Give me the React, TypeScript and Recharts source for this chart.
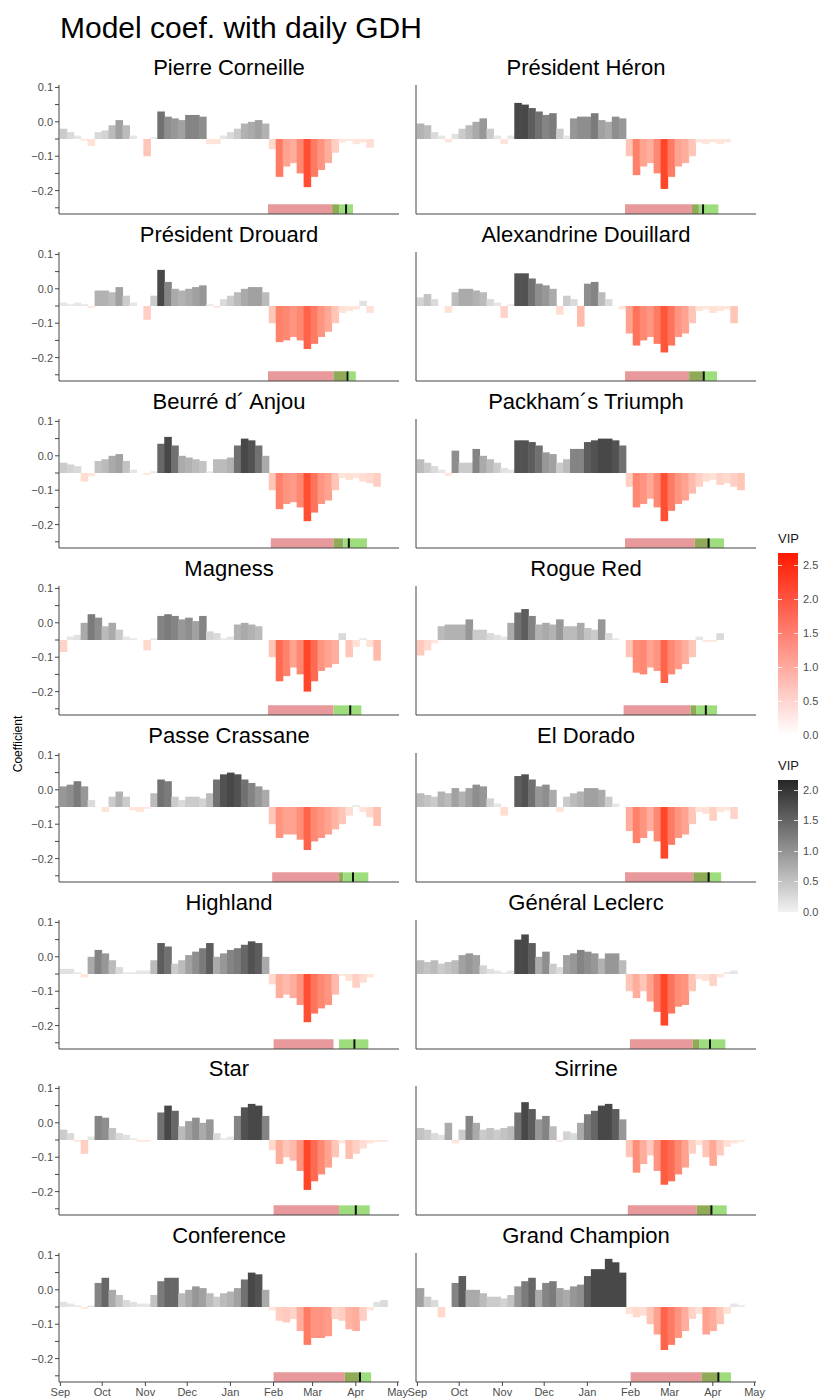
import { BarChart, Bar, XAxis, YAxis, Cell, ReferenceArea, ReferenceLine } from 'recharts'

// bars hang from this level, as in the original figure
const BASE = -0.05

// start day (days after 1 Sep) of each 5-day bin
const DAYS = [
  0, 5, 10, 15, 20, 25, 30, 35, 40, 45, 50, 55, 60, 65, 70, 75, 80, 85, 90, 95,
  100, 105, 110, 115, 120, 125, 130, 135, 140, 145, 150, 155, 160, 165, 170, 175,
  180, 185, 190, 195, 200, 205, 210, 215, 220, 225, 230, 235, 240,
]
const MONTH_TICKS = [0, 30, 61, 91, 122, 153, 181, 212, 242]
const MONTH_LABELS = ['Sep', 'Oct', 'Nov', 'Dec', 'Jan', 'Feb', 'Mar', 'Apr', 'May']
const Y_TICKS = [-0.25, -0.2, -0.15, -0.1, -0.05, 0, 0.05, 0.1]

const CULTIVARS = [
  'Pierre Corneille', 'Président Héron',
  'Président Drouard', 'Alexandrine Douillard',
  'Beurré d´ Anjou', 'Packham´s Triumph',
  'Magness', 'Rogue Red',
  'Passe Crassane', 'El Dorado',
  'Highland', 'Général Leclerc',
  'Star', 'Sirrine',
  'Conference', 'Grand Champion',
]

const n = null
const PIERRE_CORNEILLE = [-0.02, -0.03, -0.04, -0.055, -0.07, -0.03, -0.025, -0.01, 0.005, -0.01, -0.04, -0.05, -0.1, -0.045, 0.03, 0.015, 0.01, 0.005, 0.02, 0.02, 0.015, -0.065, -0.065, -0.04, -0.03, -0.02, -0.005, 0, 0.005, -0.005, -0.08, -0.16, -0.13, -0.12, -0.15, -0.19, -0.16, -0.14, -0.12, -0.09, -0.06, -0.055, -0.065, -0.06, -0.075, n, n, n, n]
const PRESIDENT_HERON = [-0.005, -0.01, -0.03, -0.04, -0.06, -0.035, -0.02, -0.01, 0, 0.01, -0.02, -0.04, -0.065, -0.04, 0.055, 0.05, 0.04, 0.03, 0.02, 0.025, -0.02, -0.04, 0.01, 0.015, 0.015, 0.025, 0.005, 0, 0.015, 0.01, -0.1, -0.155, -0.13, -0.12, -0.15, -0.195, -0.16, -0.13, -0.12, -0.1, -0.06, -0.065, -0.06, -0.065, -0.06, n, n, n, n]
const PRESIDENT_DROUARD = [-0.04, -0.045, -0.04, -0.045, -0.055, -0.005, -0.005, -0.01, 0.005, -0.02, -0.04, -0.05, -0.09, -0.02, 0.055, 0.02, 0, -0.005, 0, 0.005, 0.01, -0.045, -0.055, -0.03, -0.02, -0.01, 0, 0.005, 0.005, -0.01, -0.1, -0.155, -0.15, -0.14, -0.15, -0.175, -0.16, -0.14, -0.125, -0.1, -0.07, -0.065, -0.06, -0.035, -0.07, n, n, n, n]
const ALEXANDRINE_DOUILLARD = [-0.025, -0.015, -0.03, -0.05, -0.07, -0.01, 0, 0, -0.005, -0.01, -0.03, -0.04, -0.085, -0.045, 0.045, 0.045, 0.03, 0.015, 0.01, 0, -0.075, -0.02, -0.03, -0.11, 0.015, 0.02, -0.01, -0.03, -0.05, -0.06, -0.13, -0.165, -0.15, -0.14, -0.16, -0.185, -0.165, -0.14, -0.13, -0.1, -0.065, -0.06, -0.07, -0.065, -0.06, -0.1, n, n, n]
const BEURRE_ANJOU = [-0.02, -0.025, -0.03, -0.075, -0.06, -0.015, -0.01, 0, 0.005, -0.015, -0.04, -0.05, -0.055, -0.045, 0.035, 0.055, 0.03, 0, -0.005, -0.01, -0.015, -0.045, -0.01, -0.01, -0.005, 0.03, 0.05, 0.045, 0.03, 0, -0.1, -0.155, -0.14, -0.135, -0.15, -0.19, -0.165, -0.14, -0.13, -0.1, -0.065, -0.07, -0.065, -0.075, -0.08, -0.09, n, n, n]
const PACKHAMS_TRIUMPH = [-0.01, -0.02, -0.03, -0.04, -0.058, 0.015, -0.02, -0.02, 0.02, 0, -0.01, -0.02, -0.035, -0.04, 0.045, 0.045, 0.04, 0.03, 0.01, 0.005, -0.02, -0.01, 0.02, 0.02, 0.04, 0.045, 0.05, 0.05, 0.045, 0.03, -0.09, -0.15, -0.14, -0.125, -0.15, -0.19, -0.16, -0.14, -0.13, -0.11, -0.09, -0.075, -0.07, -0.085, -0.08, -0.09, -0.1, n, n]
const MAGNESS = [-0.085, -0.04, -0.035, 0, 0.025, 0.015, -0.01, 0, -0.02, -0.04, -0.045, -0.05, -0.08, -0.045, 0.02, 0.025, 0.02, 0.01, 0.015, 0.005, 0.02, -0.025, -0.03, -0.045, -0.04, -0.005, 0, -0.005, -0.01, -0.05, -0.1, -0.17, -0.155, -0.13, -0.15, -0.2, -0.17, -0.14, -0.13, -0.12, -0.03, -0.1, -0.07, -0.045, -0.07, -0.11, n, n, n]
const ROGUE_RED = [-0.095, -0.08, -0.06, -0.01, -0.005, -0.005, -0.005, 0.01, -0.02, -0.02, -0.03, -0.035, -0.04, 0, 0.03, 0.04, 0.02, -0.005, 0, -0.005, 0.01, -0.01, -0.01, 0, -0.015, -0.02, 0.01, -0.03, -0.045, -0.05, -0.1, -0.145, -0.15, -0.13, -0.14, -0.175, -0.15, -0.135, -0.12, -0.1, -0.04, -0.055, -0.055, -0.03, n, n, n, n, n]
const PASSE_CRASSANE = [0.01, 0.015, 0.025, 0.01, -0.03, -0.05, -0.065, -0.02, -0.005, -0.02, -0.06, -0.065, -0.055, -0.01, 0.03, 0.025, -0.02, -0.03, -0.02, -0.02, -0.025, -0.01, 0.03, 0.045, 0.05, 0.045, 0.03, 0.02, 0.01, 0, -0.1, -0.14, -0.13, -0.13, -0.145, -0.175, -0.15, -0.14, -0.13, -0.115, -0.1, -0.075, -0.045, -0.065, -0.08, -0.105, n, n, n]
const EL_DORADO = [-0.01, -0.015, -0.02, -0.005, -0.01, 0.005, -0.005, 0.005, 0.015, 0.01, -0.025, -0.04, -0.075, -0.05, 0.04, 0.045, 0.03, 0.01, 0.015, 0, -0.065, -0.02, -0.01, -0.005, 0.005, 0.005, 0, -0.02, -0.04, -0.05, -0.12, -0.155, -0.14, -0.12, -0.15, -0.2, -0.16, -0.14, -0.13, -0.1, -0.065, -0.07, -0.09, -0.065, -0.06, -0.085, n, n, n]
const HIGHLAND = [-0.035, -0.035, -0.045, -0.06, 0, 0.02, 0.01, -0.01, -0.03, -0.045, -0.045, -0.04, -0.04, -0.01, 0.04, 0.03, -0.02, -0.01, 0.005, 0.015, 0.025, 0.04, 0, 0.01, 0.02, 0.025, 0.035, 0.045, 0.04, 0, -0.08, -0.12, -0.11, -0.12, -0.14, -0.19, -0.165, -0.15, -0.14, -0.11, -0.055, -0.07, -0.09, -0.075, -0.06, n, n, n, n]
const GENERAL_LECLERC = [-0.01, -0.015, -0.01, -0.02, -0.015, -0.01, 0.005, 0.01, 0.005, -0.025, -0.035, -0.04, -0.045, -0.04, 0.05, 0.065, 0.04, 0, 0.015, -0.02, -0.03, 0.005, 0.01, 0.02, 0.015, 0.01, -0.005, 0.01, 0.01, -0.01, -0.1, -0.12, -0.1, -0.13, -0.16, -0.2, -0.165, -0.145, -0.14, -0.1, -0.065, -0.07, -0.085, -0.06, -0.045, -0.04, n, n, n]
const STAR = [-0.02, -0.03, -0.055, -0.09, -0.04, 0.02, 0.015, -0.015, -0.03, -0.035, -0.045, -0.055, -0.055, -0.05, 0.03, 0.05, 0.035, -0.01, 0.005, 0.015, 0, 0.01, -0.03, -0.045, -0.04, 0.02, 0.045, 0.055, 0.05, 0.02, -0.08, -0.12, -0.1, -0.11, -0.14, -0.195, -0.17, -0.15, -0.13, -0.1, -0.06, -0.105, -0.09, -0.075, -0.06, -0.055, -0.055, n, n]
const SIRRINE = [-0.015, -0.02, -0.03, -0.035, 0, -0.06, -0.02, 0.02, 0, -0.02, -0.015, -0.02, -0.015, -0.01, 0.03, 0.06, 0.04, 0.01, 0.02, -0.01, -0.055, -0.025, -0.03, 0, 0.025, 0.035, 0.05, 0.055, 0.04, 0.01, -0.1, -0.145, -0.12, -0.095, -0.14, -0.18, -0.17, -0.15, -0.13, -0.09, -0.065, -0.1, -0.125, -0.095, -0.07, -0.06, -0.055, n, n]
const CONFERENCE = [-0.035, -0.04, -0.045, -0.055, -0.045, 0.02, 0.035, 0, -0.015, -0.03, -0.035, -0.04, -0.04, -0.015, 0.025, 0.035, 0.035, -0.01, 0, 0.01, 0.005, -0.01, -0.02, -0.01, -0.005, 0.005, 0.03, 0.05, 0.045, 0, -0.06, -0.09, -0.095, -0.085, -0.12, -0.16, -0.14, -0.14, -0.135, -0.085, -0.09, -0.115, -0.12, -0.09, -0.06, -0.035, -0.03, n, n]
const GRAND_CHAMPION = [0.005, -0.02, -0.03, -0.08, -0.05, 0.02, 0.04, 0, 0, -0.01, -0.02, -0.02, -0.025, -0.015, 0.01, 0.025, 0.035, 0, 0.02, 0.025, 0.005, 0, 0.01, 0.015, 0.04, 0.06, 0.06, 0.09, 0.08, 0.05, -0.07, -0.08, -0.075, -0.1, -0.13, -0.175, -0.16, -0.14, -0.12, -0.085, -0.07, -0.13, -0.12, -0.1, -0.07, -0.04, -0.045, n, n]

const COEFS = [
  PIERRE_CORNEILLE, PRESIDENT_HERON, PRESIDENT_DROUARD, ALEXANDRINE_DOUILLARD,
  BEURRE_ANJOU, PACKHAMS_TRIUMPH, MAGNESS, ROGUE_RED, PASSE_CRASSANE, EL_DORADO,
  HIGHLAND, GENERAL_LECLERC, STAR, SIRRINE, CONFERENCE, GRAND_CHAMPION,
]

// phenology bars, in days after 1 Sep
const HEAT_START = [149, 149, 149, 149, 151, 149, 149, 148, 152, 149, 153, 152.5, 153, 151, 153, 153]
const HEAT_END = [200, 202, 205, 205, 203, 209, 196, 200, 203, 210, 196, 202.5, 200, 211, 215, 216]
const BLOOM_FIRST = [195, 197, 196, 195, 196, 199, 196, 196, 200, 198, 200, 197.5, 200, 200.5, 204, 204]
const BLOOM_LAST = [210, 216, 212, 215, 220, 220, 216, 215, 221, 218, 221, 221, 222, 222, 223, 225]
const BLOOM_MEAN = [205, 205, 206, 205.5, 207, 209, 208, 207, 210, 209, 211, 210, 212, 211, 215, 216]

const FONT = '"Liberation Sans", Arial, Helvetica, sans-serif'
const PLOT_W = 340
const PLOT_H = 129
const X_MIN = -1
const X_MAX = 243
const Y_MIN = -0.268
const Y_MAX = 0.107
const PHENO_TOP = -0.24
const BIN_PX = (5 * PLOT_W) / (X_MAX - X_MIN)

function vipFill(v: number): string {
  const h = Math.abs(v - BASE)
  if (v >= BASE) {
    const t = Math.pow(Math.min(1, Math.max(0, (h - 0.008) / 0.092)), 1.2)
    const g = Math.round(232 - t * 160)
    return `rgb(${g},${g},${g})`
  }
  const t = Math.pow(Math.min(1, Math.max(0, (h - 0.01) / 0.135)), 1.3)
  return `rgb(255,${Math.round(230 - t * 160)},${Math.round(220 - t * 180)})`
}

function yTickLabel(v: number): string {
  if (Math.abs(v * 10 - Math.round(v * 10)) > 1e-6) return ''
  return v.toFixed(1).replace('-', '\u2212')
}

// fill the whole 5-day bin so neighbouring bars touch
function BinRect(p: any) {
  if (!p || !isFinite(p.height) || p.height <= 0) return <g />
  const cx = p.x + p.width / 2
  return <rect x={cx - BIN_PX / 2 - 0.3} y={p.y} width={BIN_PX + 0.6} height={p.height} fill={p.fill} />
}

function Panel({ index }: { index: number }) {
  const row = Math.floor(index / 2)
  const col = index % 2
  const isBottom = row === 7
  const plotTop = Math.round(85 + 166.9 * row)
  const axisX = col === 0 ? 59 : 416
  const yAxisW = col === 0 ? 59 : 16
  const chartLeft = axisX - yAxisW
  const xAxisH = isBottom ? 22 : 6
  const rightM = 16

  const data = DAYS.map((d, i) => {
    const v = COEFS[index][i]
    return {
      x: d + 2.5,
      v,
      range: v === null ? null : [Math.min(v, BASE), Math.max(v, BASE)],
    }
  })

  const hs = HEAT_START[index]
  const he = HEAT_END[index]
  const bf = BLOOM_FIRST[index]
  const bl = BLOOM_LAST[index]
  const bm = BLOOM_MEAN[index]
  const overlap = bf < he

  return (
    <>
      <div
        style={{
          position: 'absolute',
          left: axisX,
          top: plotTop - 30,
          width: PLOT_W,
          textAlign: 'center',
          fontSize: 22,
          lineHeight: '26px',
          color: '#000',
          whiteSpace: 'nowrap',
        }}
      >
        {CULTIVARS[index]}
      </div>
      <div style={{ position: 'absolute', left: chartLeft, top: plotTop - 10 }}>
        <BarChart
          width={yAxisW + PLOT_W + rightM}
          height={10 + PLOT_H + xAxisH}
          data={data}
          margin={{ top: 10, right: rightM, bottom: 0, left: 0 }}
          barSize={7}
        >
          <XAxis
            dataKey="x"
            type="number"
            domain={[X_MIN, X_MAX]}
            ticks={MONTH_TICKS}
            interval={0}
            height={xAxisH}
            tickSize={4}
            tickMargin={2}
            axisLine={{ stroke: '#444' }}
            tickLine={{ stroke: '#444' }}
            tick={isBottom ? { fontSize: 11, fill: '#4d4d4d', fontFamily: FONT } : false}
            tickFormatter={(t: number) => MONTH_LABELS[MONTH_TICKS.indexOf(t)] ?? ''}
          />
          <YAxis
            type="number"
            domain={[Y_MIN, Y_MAX]}
            ticks={Y_TICKS}
            interval={0}
            width={yAxisW}
            tickSize={4}
            tickMargin={2}
            axisLine={{ stroke: '#444' }}
            tickLine={{ stroke: '#444' }}
            tick={col === 0 ? { fontSize: 11, fill: '#4d4d4d', fontFamily: FONT } : false}
            tickFormatter={yTickLabel}
            allowDataOverflow
          />
          {overlap ? (
            <>
              <ReferenceArea x1={hs} x2={bf} y1={Y_MIN} y2={PHENO_TOP} fill="#e8999b" fillOpacity={1} />
              <ReferenceArea x1={bf} x2={he} y1={Y_MIN} y2={PHENO_TOP} fill="#8fab58" fillOpacity={1} />
              <ReferenceArea x1={he} x2={bl} y1={Y_MIN} y2={PHENO_TOP} fill="#9ddd7d" fillOpacity={1} />
            </>
          ) : (
            <>
              <ReferenceArea x1={hs} x2={he} y1={Y_MIN} y2={PHENO_TOP} fill="#e8999b" fillOpacity={1} />
              <ReferenceArea x1={bf} x2={bl} y1={Y_MIN} y2={PHENO_TOP} fill="#9ddd7d" fillOpacity={1} />
            </>
          )}
          <ReferenceLine
            segment={[{ x: bm, y: Y_MIN }, { x: bm, y: PHENO_TOP }]}
            stroke="#111"
            strokeWidth={2}
          />
          <Bar dataKey="range" isAnimationActive={false} shape={BinRect}>
            {data.map((d, i) => (
              <Cell key={i} fill={d.v === null ? 'none' : vipFill(d.v)} />
            ))}
          </Bar>
        </BarChart>
      </div>
    </>
  )
}

const RED_LABELS = [2.5, 2.0, 1.5, 1.0, 0.5, 0.0]
const GREY_LABELS = [2.0, 1.5, 1.0, 0.5, 0.0]

function ColourBar({ top, bottom, maxVip, labels, gradient }: {
  top: number; bottom: number; maxVip: number; labels: number[]; gradient: string
}) {
  const perUnit = (bottom - top) / maxVip
  return (
    <>
      <div style={{ position: 'absolute', left: 778, top: top - 22, fontSize: 13, color: '#1a1a1a' }}>VIP</div>
      <div style={{ position: 'absolute', left: 778, top, width: 20, height: bottom - top, background: gradient }} />
      {labels.map((v) => {
        const y = bottom - v * perUnit
        return (
          <div key={v}>
            {v > 0 && (
              <>
                <div style={{ position: 'absolute', left: 778, top: y, width: 4, height: 1, background: 'rgba(255,255,255,0.8)' }} />
                <div style={{ position: 'absolute', left: 794, top: y, width: 4, height: 1, background: 'rgba(255,255,255,0.8)' }} />
              </>
            )}
            <div style={{ position: 'absolute', left: 803, top: y - 7, fontSize: 11, lineHeight: '14px', color: '#4d4d4d' }}>
              {v.toFixed(1)}
            </div>
          </div>
        )
      })}
    </>
  )
}

export default function App() {
  return (
    <div
      style={{
        position: 'absolute',
        left: 0,
        top: 0,
        width: 837,
        height: 1400,
        background: '#fff',
        fontFamily: FONT,
        overflow: 'hidden',
      }}
    >
      <div style={{ position: 'absolute', left: 60, top: 9, fontSize: 30, lineHeight: '38px', color: '#000', whiteSpace: 'nowrap' }}>
        Model coef. with daily GDH
      </div>
      <div
        style={{
          position: 'absolute',
          left: 18,
          top: 744,
          fontSize: 12,
          color: '#000',
          whiteSpace: 'nowrap',
          transform: 'translate(-50%, -50%) rotate(-90deg)',
        }}
      >
        Coefficient
      </div>
      {CULTIVARS.map((_, i) => (
        <Panel key={i} index={i} />
      ))}
      <ColourBar top={553} bottom={735} maxVip={2.68} labels={RED_LABELS} gradient="linear-gradient(to bottom, #ff1a00, #ffffff)" />
      <ColourBar top={780} bottom={912} maxVip={2.16} labels={GREY_LABELS} gradient="linear-gradient(to bottom, #262626, #f2f2f2)" />
    </div>
  )
}
